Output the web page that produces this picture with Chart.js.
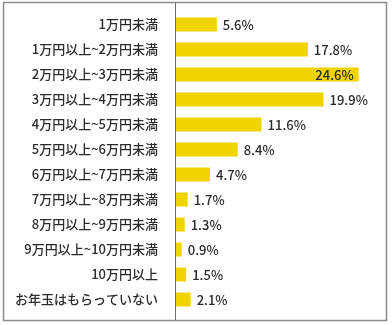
<!DOCTYPE html>
<html>
<head>
<meta charset="utf-8">
<script src="https://cdn.jsdelivr.net/npm/chart.js@4"></script>
<style>
    body { margin: 0; background: #fff; }
    #wrap { width: 392px; height: 325px; }
</style>
</head>
<body>
<div id="wrap"><canvas id="otoshidama-chart" width="392" height="325"></canvas></div>
<script>
// Chart data
const categories = [
    '1万円未満',
    '1万円以上~2万円未満',
    '2万円以上~3万円未満',
    '3万円以上~4万円未満',
    '4万円以上~5万円未満',
    '5万円以上~6万円未満',
    '6万円以上~7万円未満',
    '7万円以上~8万円未満',
    '8万円以上~9万円未満',
    '9万円以上~10万円未満',
    '10万円以上',
    'お年玉はもらっていない'
];
const percents = [5.6, 17.8, 24.6, 19.9, 11.6, 8.4, 4.7, 1.7, 1.3, 0.9, 1.5, 2.1];

const textColor = '#2b2b2b';
const fontFamily = '"Noto Sans CJK JP", "Noto Sans", sans-serif';

// Frame + axis line
const framePlugin = {
    id: 'frame',
    afterDraw(chart) {
        const ctx = chart.ctx;
        const x0 = chart.scales.x.getPixelForValue(0);
        ctx.save();
        ctx.strokeStyle = '#8c8c8c';
        ctx.lineWidth = 1.5;
        ctx.strokeRect(3.5, 2.5, 383, 318);
        ctx.lineWidth = 1;
        ctx.strokeStyle = '#6e6e6e';
        ctx.beginPath();
        ctx.moveTo(Math.round(x0) + 0.5, 3);
        ctx.lineTo(Math.round(x0) + 0.5, 320);
        ctx.stroke();
        ctx.restore();
    }
};

// Value labels after each bar
const valueLabels = {
    id: 'valueLabels',
    afterDatasetsDraw(chart) {
        const ctx = chart.ctx;
        const meta = chart.getDatasetMeta(0);
        ctx.save();
        ctx.font = '500 13px ' + fontFamily;
        ctx.fillStyle = textColor;
        ctx.textBaseline = 'middle';
        meta.data.forEach((bar, i) => {
            const text = percents[i].toFixed(1) + '%';
            const w = ctx.measureText(text).width;
            if (bar.x + 6 + w > chart.chartArea.right) {
                ctx.textAlign = 'right';
                ctx.fillText(text, bar.x - 5, bar.y + 1);
            } else {
                ctx.textAlign = 'left';
                ctx.fillText(text, bar.x + 6, bar.y + 1);
            }
        });
        ctx.restore();
    }
};

const ctx = document.getElementById('otoshidama-chart').getContext('2d');
new Chart(ctx, {
    type: 'bar',
    data: {
        labels: categories,
        datasets: [{
            data: percents,
            backgroundColor: '#f0d400',
            borderWidth: 0,
            categoryPercentage: 1,
            barPercentage: 0.56
        }]
    },
    options: {
        indexAxis: 'y',
        responsive: false,
        animation: false,
        layout: {
            padding: { top: 12, bottom: 13, left: 0, right: 8 }
        },
        plugins: {
            legend: { display: false },
            tooltip: { enabled: false }
        },
        scales: {
            x: {
                display: false,
                min: 0,
                max: 28
            },
            y: {
                afterFit: (scale) => {
                    scale.width = 175;
                    scale.paddingTop = 0;
                    scale.paddingBottom = 0;
                },
                grid: { display: false, drawTicks: false },
                border: { display: false },
                ticks: {
                    padding: 17,
                    color: textColor,
                    font: { family: fontFamily, size: 13, weight: '500' }
                }
            }
        }
    },
    plugins: [framePlugin, valueLabels]
});
</script>
</body>
</html>
